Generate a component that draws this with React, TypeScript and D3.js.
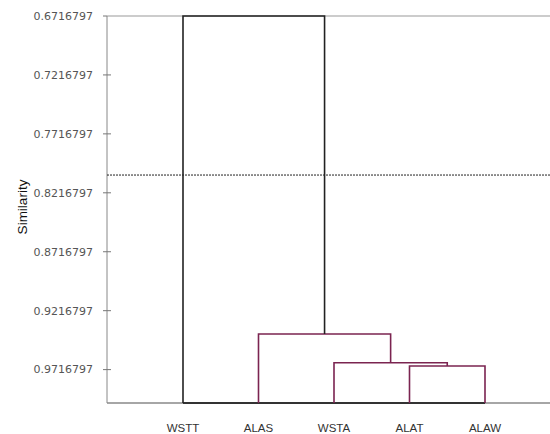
import React from "react";
import * as d3 from "d3";

const leaves = ["WSTT", "ALAS", "WSTA", "ALAT", "ALAW"];
const mergeLeft = ["ALAT", "WSTA", "ALAS", "WSTT"];
const mergeRight = ["ALAW", "m0", "m1", "m2"];
const mergeHeight = [0.9686, 0.9658, 0.9415, 0.6716797];
const mergeColor = ["#7b2450", "#7b2450", "#7b2450", "#222222"];
const yTicks = [0.6716797, 0.7216797, 0.7716797, 0.8216797, 0.8716797, 0.9216797, 0.9716797];
const cutLevel = 0.8066;

const W = 550, H = 434;
const axisX = 107;

export default function App() {
  const y = d3.scaleLinear().domain([0.6716797, 1.0]).range([16, 403]);
  const x = d3.scalePoint<string>().domain(leaves).range([183, 485]);

  const pos: Record<string, { x: number; h: number }> = {};
  leaves.forEach((l) => (pos[l] = { x: x(l)!, h: 1.0 }));
  const segs: { d: string; c: string }[] = [];
  mergeLeft.forEach((a, i) => {
    const b = mergeRight[i];
    const pa = pos[a], pb = pos[b];
    const h = mergeHeight[i];
    const p = d3.path();
    p.moveTo(pa.x, y(pa.h));
    p.lineTo(pa.x, y(h));
    p.lineTo(pb.x, y(h));
    p.lineTo(pb.x, y(pb.h));
    segs.push({ d: p.toString(), c: mergeColor[i] });
    pos["m" + i] = { x: (pa.x + pb.x) / 2, h };
  });

  return (
    <svg width={W} height={H} style={{ position: "absolute", left: 0, top: 0, background: "#fff" }}>
      <line x1={axisX} x2={W} y1={y(0.6716797)} y2={y(0.6716797)} stroke="#999" strokeWidth={1} />
      <line x1={axisX} x2={W} y1={y(1.0)} y2={y(1.0)} stroke="#888" strokeWidth={1.5} />
      <line x1={axisX} x2={axisX} y1={y(0.6716797)} y2={y(1.0)} stroke="#888" strokeWidth={1} />
      {yTicks.map((t) => (
        <g key={t}>
          <line x1={axisX - 4} x2={t === yTicks[0] ? axisX : axisX + 4} y1={y(t)} y2={y(t)} stroke="#777" strokeWidth={1} />
          <text x={93} y={y(t)} dy="0.35em" textAnchor="end" fontFamily="DejaVu Sans, sans-serif" fontSize={11} fill="#555">
            {t.toFixed(7)}
          </text>
        </g>
      ))}
      <text transform={`translate(22,207) rotate(-90)`} dy="0.35em" textAnchor="middle" fontFamily="Liberation Sans, Arial, sans-serif" fontSize={13.5} fill="#111">
        Similarity
      </text>
      <line x1={axisX} x2={W} y1={y(cutLevel)} y2={y(cutLevel)} stroke="#222" strokeWidth={1} strokeDasharray="2,1" />
      <line x1={x(leaves[0])!} x2={x(leaves[leaves.length - 1])!} y1={y(1.0)} y2={y(1.0)} stroke="#333" strokeWidth={2} />
      {segs.map((s, i) => (
        <path key={i} d={s.d} fill="none" stroke={s.c} strokeWidth={1.6} />
      ))}
      {leaves.map((l) => (
        <text key={l} x={x(l)!} y={432} textAnchor="middle" fontFamily="Liberation Sans, Arial, sans-serif" fontSize={11.5} fill="#333">
          {l}
        </text>
      ))}
    </svg>
  );
}
